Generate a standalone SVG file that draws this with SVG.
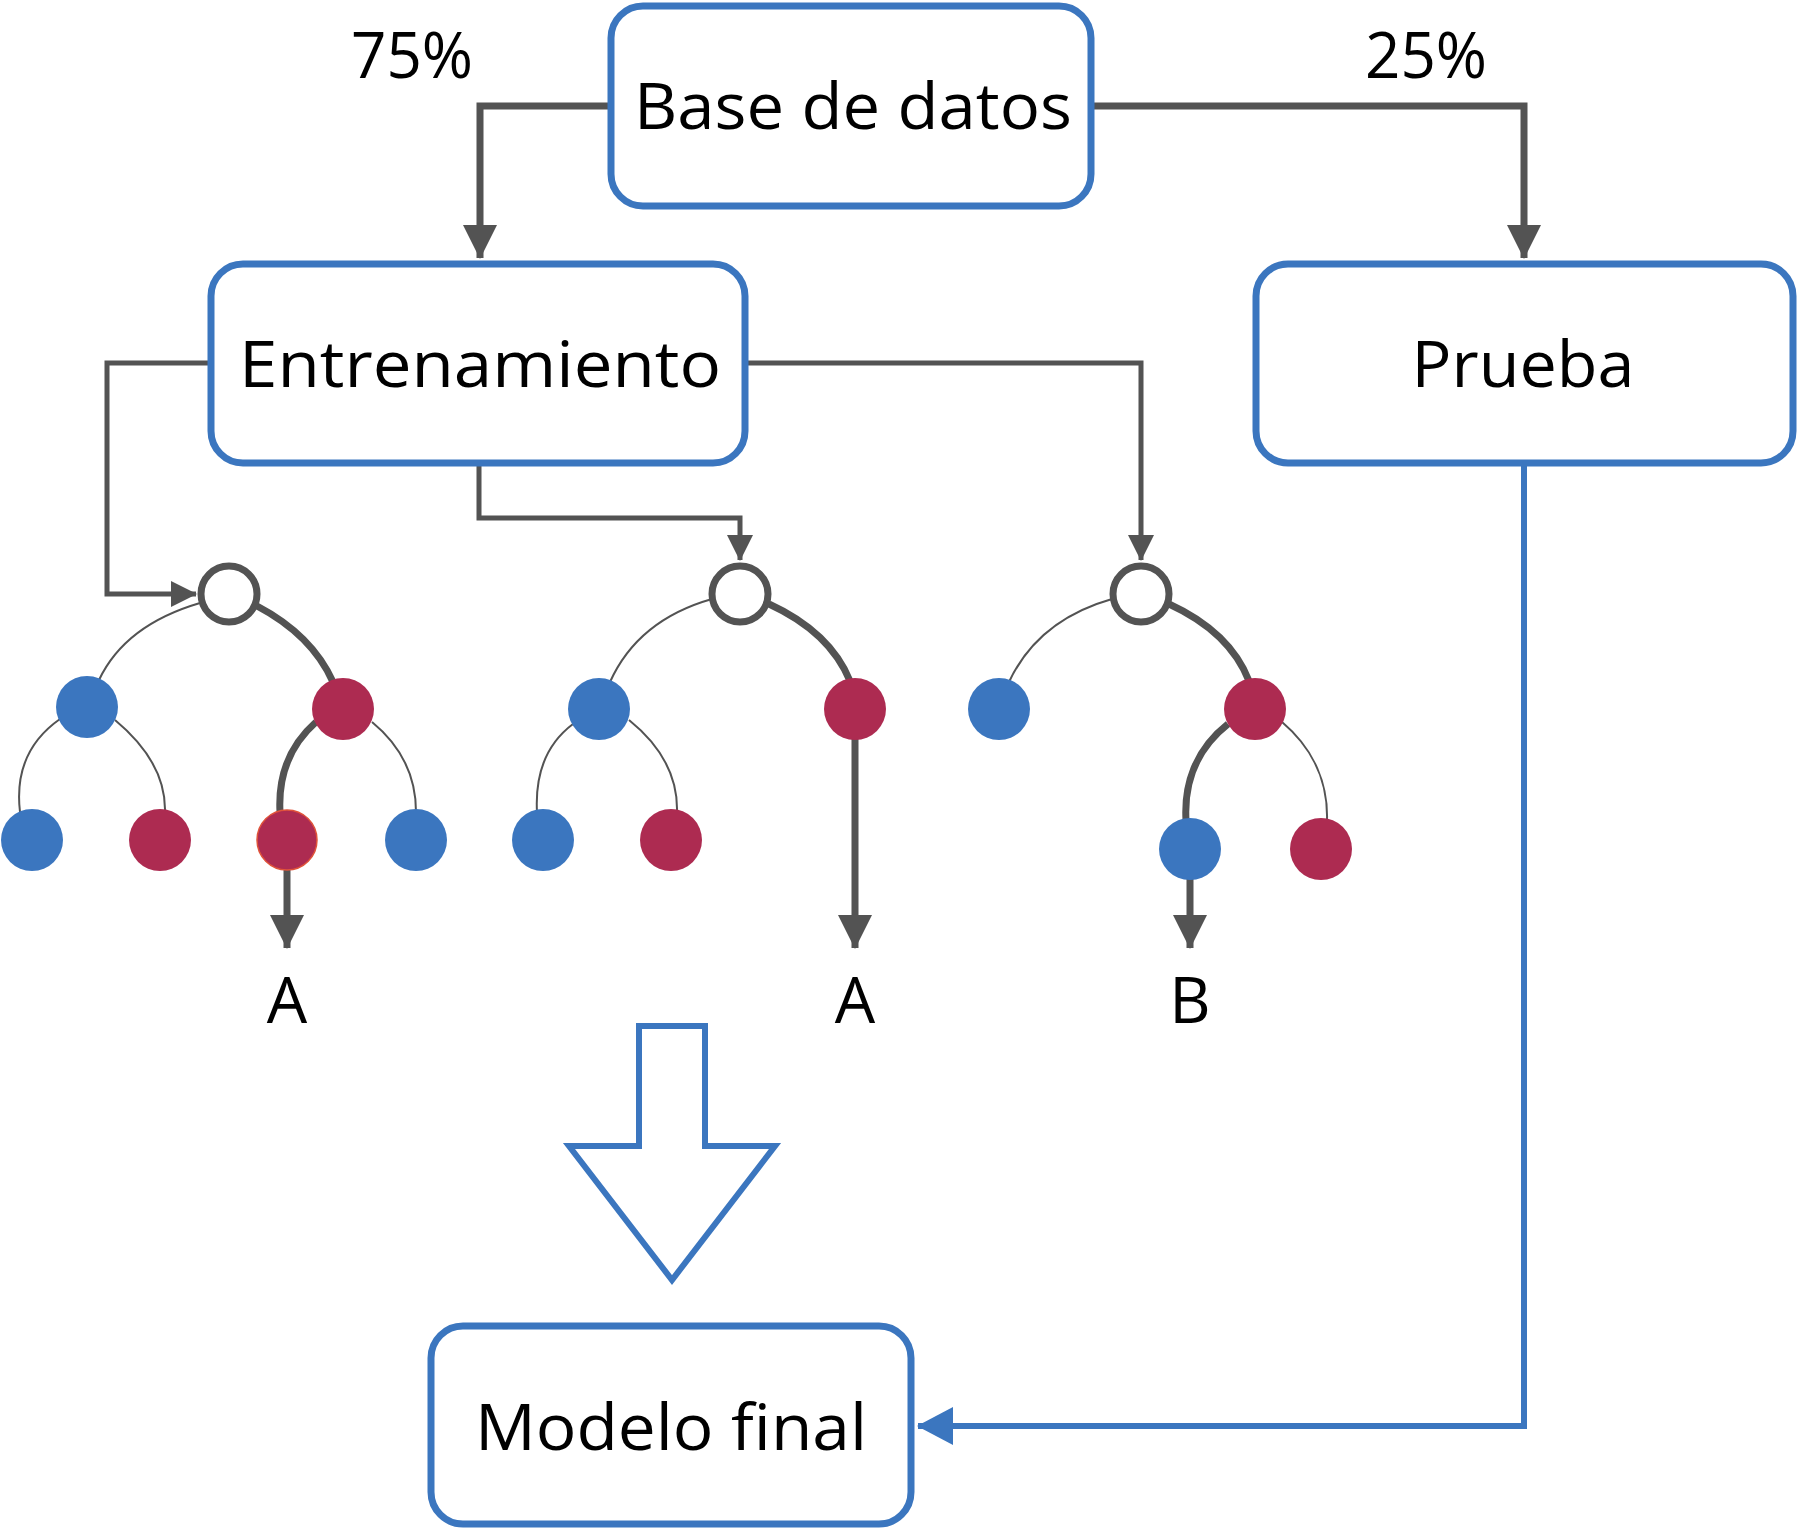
<svg xmlns="http://www.w3.org/2000/svg" width="1800" height="1530" viewBox="0 0 1800 1530">
<style>
.box{fill:#fff;stroke:#3b76bf;stroke-width:7}
.lbl{font-family:"Open Sans","Liberation Sans",sans-serif;font-weight:400;font-size:64px;fill:#000;text-anchor:middle}
.conn{fill:none;stroke:#535353;stroke-linejoin:miter}
.thin{fill:none;stroke:#535353;stroke-width:2}
.thick{fill:none;stroke:#535353;stroke-width:7}
.blue{fill:#3b76bf}
.red{fill:#ad2b51}
.root{fill:#fff;stroke:#535353;stroke-width:7}
</style>
<defs>
<marker id="ahBig" markerUnits="userSpaceOnUse" markerWidth="34" markerHeight="34" viewBox="0 0 34 34" refX="33" refY="17" orient="auto"><path d="M0,0 L34,17 L0,34 Z" fill="#535353"/></marker>
<marker id="ahSmall" markerUnits="userSpaceOnUse" markerWidth="26" markerHeight="26" viewBox="0 0 26 26" refX="25" refY="13" orient="auto"><path d="M0,0 L26,13 L0,26 Z" fill="#535353"/></marker>
<marker id="ahBlue" markerUnits="userSpaceOnUse" markerWidth="36" markerHeight="38" viewBox="0 0 36 38" refX="35" refY="19" orient="auto"><path d="M0,0 L36,19 L0,38 Z" fill="#3b76bf"/></marker>
</defs>

<g id="connectors">
<path class="conn" stroke-width="7" d="M611,106 H480 V258" marker-end="url(#ahBig)"/>
<path class="conn" stroke-width="7" d="M1091,106 H1524 V258" marker-end="url(#ahBig)"/>
<path class="conn" stroke-width="5" d="M208,363 H107 V594 H196" marker-end="url(#ahSmall)"/>
<path class="conn" stroke-width="5" d="M479,465 V518 H740 V560" marker-end="url(#ahSmall)"/>
<path class="conn" stroke-width="5" d="M748,363 H1141 V560" marker-end="url(#ahSmall)"/>
<path fill="none" stroke="#3b76bf" stroke-width="6" d="M1524,465 V1426 H918" marker-end="url(#ahBlue)"/>
<path class="conn" stroke-width="7" d="M287,868 V948" marker-end="url(#ahBig)"/>
<path class="conn" stroke-width="7" d="M855,738 V948" marker-end="url(#ahBig)"/>
<path class="conn" stroke-width="7" d="M1190,878 V948" marker-end="url(#ahBig)"/>
</g>

<g id="base-de-datos"><rect class="box" x="611" y="6" width="480" height="200" rx="32"/><text class="lbl" x="853" y="129" textLength="438" lengthAdjust="spacingAndGlyphs">Base de datos</text></g>
<g id="entrenamiento"><rect class="box" x="211" y="264" width="534" height="199" rx="32"/><text class="lbl" x="480" y="387" textLength="482" lengthAdjust="spacingAndGlyphs">Entrenamiento</text></g>
<g id="prueba"><rect class="box" x="1256" y="264" width="537" height="199" rx="32"/><text class="lbl" x="1523" y="387" textLength="223" lengthAdjust="spacingAndGlyphs">Prueba</text></g>
<g id="modelo-final"><rect class="box" x="431" y="1326" width="480" height="198" rx="32"/><text class="lbl" x="671" y="1450" textLength="392" lengthAdjust="spacingAndGlyphs">Modelo final</text></g>

<g id="pct-75"><text class="lbl" x="412" y="78" textLength="122" lengthAdjust="spacingAndGlyphs">75%</text></g>
<g id="pct-25"><text class="lbl" x="1426" y="78" textLength="122" lengthAdjust="spacingAndGlyphs">25%</text></g>

<g id="tree1">
<path class="thin" d="M200,603 Q125,625 99,680"/>
<path class="thick" d="M257,606 Q312,635 333,682"/>
<path class="thin" d="M60,719 C30,740 15,770 20,812"/>
<path class="thin" d="M115,720 C145,745 166,775 165,812"/>
<path class="thick" d="M316,722 C290,745 278,775 280,812"/>
<path class="thin" d="M372,722 C400,745 416,775 416,812"/>
<circle class="root" cx="229" cy="594" r="28"/>
<circle class="blue" cx="87" cy="707" r="31"/>
<circle class="red" cx="343" cy="709" r="31"/>
<circle class="blue" cx="32" cy="840" r="31"/>
<circle class="red" cx="160" cy="840" r="31"/>
<circle class="red" cx="287" cy="840" r="30" stroke="#e0533a" stroke-width="1.5"/>
<circle class="blue" cx="416" cy="840" r="31"/>
<text class="lbl" x="287" y="1023">A</text>
</g>

<g id="tree2">
<path class="thin" d="M712,599 Q638,620 610,682"/>
<path class="thick" d="M769,604 Q830,632 850,681"/>
<path class="thin" d="M573,724 C545,745 535,775 537,812"/>
<path class="thin" d="M629,720 C660,745 678,775 677,812"/>
<circle class="root" cx="740" cy="594" r="28"/>
<circle class="blue" cx="599" cy="709" r="31"/>
<circle class="red" cx="855" cy="709" r="31"/>
<circle class="blue" cx="543" cy="840" r="31"/>
<circle class="red" cx="671" cy="840" r="31"/>
<text class="lbl" x="855" y="1023">A</text>
</g>

<g id="tree3">
<path class="thin" d="M1112,599 Q1038,620 1009,682"/>
<path class="thick" d="M1169,604 Q1230,632 1249,681"/>
<path class="thick" d="M1228,724 C1195,750 1184,785 1186,820"/>
<path class="thin" d="M1282,722 C1315,750 1328,785 1327,820"/>
<circle class="root" cx="1141" cy="594" r="28"/>
<circle class="blue" cx="999" cy="709" r="31"/>
<circle class="red" cx="1255" cy="709" r="31"/>
<circle class="blue" cx="1190" cy="849" r="31"/>
<circle class="red" cx="1321" cy="849" r="31"/>
<text class="lbl" x="1190" y="1023">B</text>
</g>

<g id="big-arrow"><path d="M639,1026 H705 V1146 H775 L672,1280 L569,1146 H639 Z" fill="#fff" stroke="#3b76bf" stroke-width="6"/></g>
</svg>
